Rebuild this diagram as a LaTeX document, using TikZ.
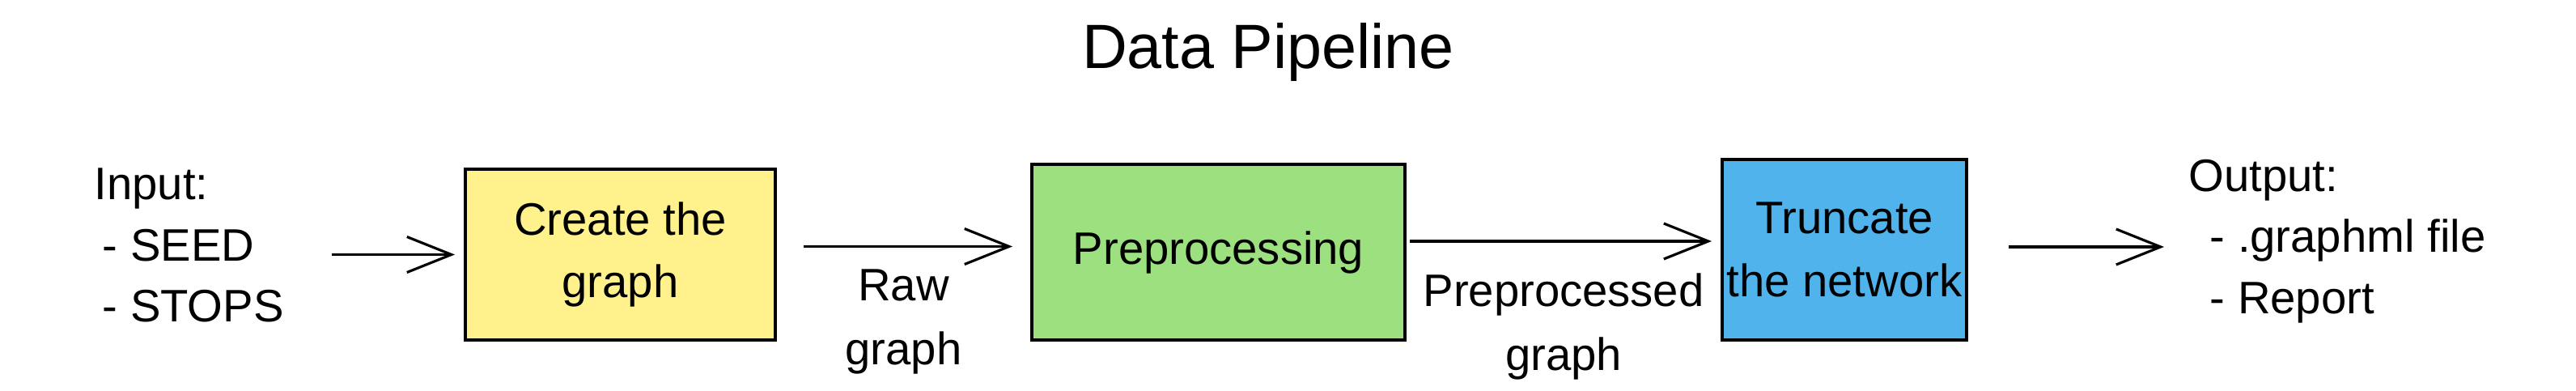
\documentclass[tikz,border=0pt]{standalone}
\usepackage{fontspec}
\setmainfont{Liberation Sans}
\usepackage{xcolor}
\usetikzlibrary{positioning, arrows.meta}

\definecolor{padyellow}{HTML}{FFF28C}
\definecolor{padgreen}{HTML}{9CE080}
\definecolor{padblue}{HTML}{50B3EC}

\begin{document}
\begin{tikzpicture}[
    stage/.style={draw, line width=1.1pt, inner sep=0pt, align=center, font=\fontsize{16}{22}\selectfont},
    create/.style={stage, fill=padyellow, minimum width=3.83cm, minimum height=2.11cm},
    prep/.style={stage, fill=padgreen, minimum width=4.61cm, minimum height=2.17cm},
    trunc/.style={stage, fill=padblue, minimum width=3.02cm, minimum height=2.23cm},
    io/.style={inner sep=0pt, align=left, font=\fontsize{16}{21.5}\selectfont},
    note/.style={inner sep=0pt, align=center, font=\fontsize{16}{22.5}\selectfont},
    heading/.style={font=\fontsize{22}{26}\selectfont},
    arrow/.style={-{Straight Barb[length=5.5mm, width=4.4mm, line width=0.9pt]}, line width=0.9pt}
]
\useasboundingbox (0,0) rectangle (31.83,4.83);

\node[heading] (title) at (15.67,4.18) {Data Pipeline};

% stages
\node[create] (graph) at (7.665,1.685) {Create the\\graph};
\node[prep] (preproc) at (15.055,1.715) {Preprocessing};
\node[trunc] (truncate) at (22.79,1.745) {Truncate\\the network};

% in / out
\node[io, anchor=west] (input) at (1.16,1.80) {Input:\\\hspace{1mm}- SEED\\\hspace{1mm}- STOPS};
\node[io, anchor=west] (output) at (27.04,1.85) {Output:\\\hspace{2.6mm}- .graphml file\\\hspace{2.6mm}- Report};

\draw[arrow, shorten <=5.9mm, shorten >=1.1mm] (input.east |- graph.west) -- (graph.west);
\draw[arrow, shorten <=3.3mm, shorten >=2.2mm] ([yshift=1mm]graph.east) -- ([yshift=1mm]graph.east -| preproc.west)
    node[note, midway, below=2.7mm] {Raw\\graph};
\draw[arrow, shorten <=0.4mm, shorten >=1.1mm] ([yshift=1.35mm]preproc.east) -- ([yshift=1.35mm]preproc.east -| truncate.west)
    node[note, midway, below=3.8mm] {Preprocessed\\graph};
\draw[arrow, shorten <=5mm, shorten >=3mm] ([yshift=0.35mm]truncate.east) -- ([yshift=0.35mm]truncate.east -| output.west);
\end{tikzpicture}
\end{document}
